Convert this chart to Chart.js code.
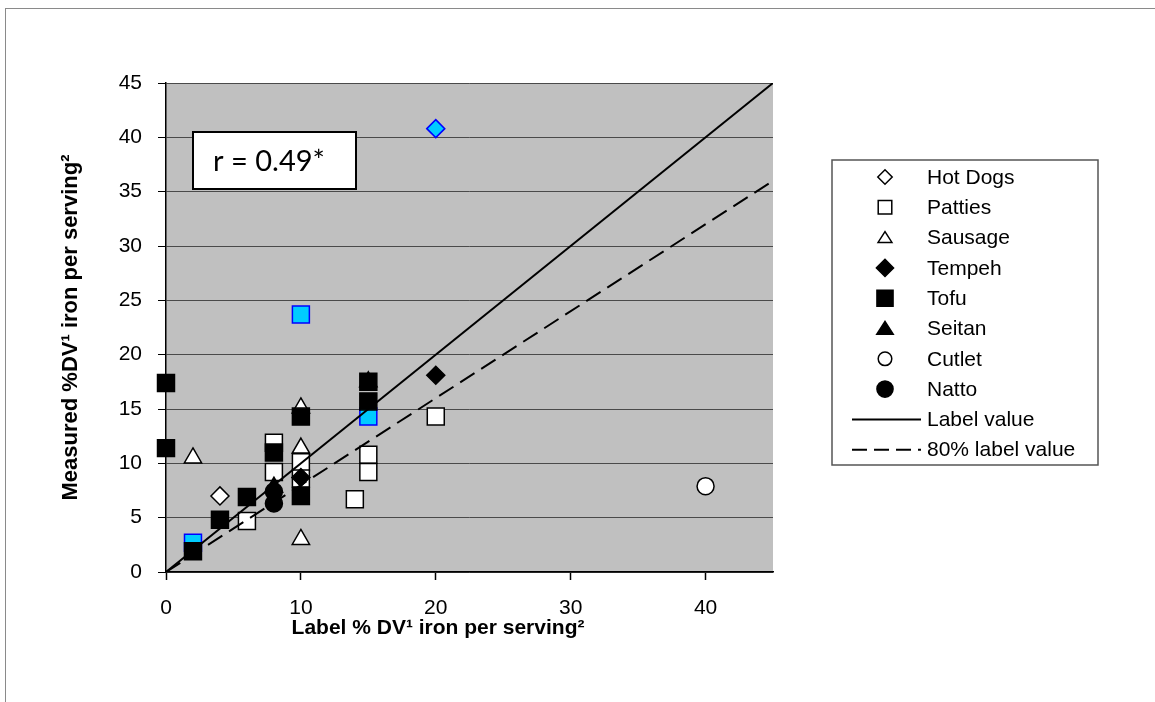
<!DOCTYPE html>
<html>
<head>
<meta charset="utf-8">
<script src="https://cdn.jsdelivr.net/npm/chart.js@4.4.0/dist/chart.umd.min.js"></script>
<style>
  html, body { margin: 0; padding: 0; background: #fff; }
</style>
</head>
<body>
<canvas id="chart" width="1155" height="702"></canvas>
<script>
// x = label %DV, y = measured %DV
const hotDogsX = [4, 20];
const hotDogsY = [7.0, 40.8];
const pattiesX = [2, 6, 8, 8, 10, 10, 10, 14, 15, 15, 15, 20];
const pattiesY = [2.7, 4.7, 11.9, 9.2, 10.1, 8.6, 23.7, 6.7, 14.3, 10.8, 9.2, 14.3];
const sausageX = [2, 10, 10, 10];
const sausageY = [10.5, 15.1, 11.4, 3.0];
const tempehX = [10, 20];
const tempehY = [8.7, 18.1];
const tofuX = [0, 0, 2, 4, 6, 8, 10, 10, 15, 15];
const tofuY = [17.4, 11.4, 1.9, 4.8, 6.9, 11.0, 14.3, 7.0, 17.5, 15.7];
const seitanX = [8, 15];
const seitanY = [7.8, 17.5];
const cutletX = [40];
const cutletY = [7.9];
const nattoX = [8, 8];
const nattoY = [7.4, 6.3];

const labelLineX = [0, 45];
const labelLineY = [0, 45];
const eightyLineX = [0, 45];
const eightyLineY = [0, 36];

// points highlighted in the original
const hotDogsFlagged = [1];
const pattiesFlagged = [0, 6, 8];

const xMax = 45;
const yMax = 45;
const xStep = 10;
const yStep = 5;
const correlationText = "r = 0.49*";
const xTitle = "Label % DV\u00B9 iron per serving\u00B2";
const yTitle = "Measured %DV\u00B9 iron per serving\u00B2";

const CYAN = "#00CCFF";
const BLUE = "#0000FF";
const SANS = "'Liberation Sans', Arial, sans-serif";

const pts = (xs, ys) => xs.map((x, i) => ({ x: x, y: ys[i] }));

function markerSet(label, xs, ys, style, radius, filled, flagged) {
  const fill = filled ? "#000" : "#fff";
  return {
    label: label,
    data: pts(xs, ys),
    showLine: false,
    pointStyle: style,
    pointRadius: radius,
    pointHoverRadius: radius,
    pointBorderWidth: 1.5,
    pointBackgroundColor: xs.map((_, i) => flagged.includes(i) ? CYAN : fill),
    pointBorderColor: xs.map((_, i) => flagged.includes(i) ? BLUE : "#000"),
    filled: filled,
    clip: false
  };
}

function lineSet(label, xs, ys, dash) {
  return {
    label: label,
    data: pts(xs, ys),
    showLine: true,
    borderColor: "#000",
    borderWidth: 2,
    borderDash: dash,
    pointRadius: 0,
    fill: false
  };
}

const datasets = [
  markerSet("Hot Dogs", hotDogsX, hotDogsY, "rectRot", 9, false, hotDogsFlagged),
  markerSet("Patties", pattiesX, pattiesY, "rect", 12, false, pattiesFlagged),
  markerSet("Sausage", sausageX, sausageY, "triangle", 10, false, []),
  markerSet("Tempeh", tempehX, tempehY, "rectRot", 9, true, []),
  markerSet("Tofu", tofuX, tofuY, "rect", 12, true, []),
  markerSet("Seitan", seitanX, seitanY, "triangle", 10, true, []),
  markerSet("Cutlet", cutletX, cutletY, "circle", 8.5, false, []),
  markerSet("Natto", nattoX, nattoY, "circle", 8.5, true, []),
  lineSet("Label value", labelLineX, labelLineY, []),
  lineSet("80% label value", eightyLineX, eightyLineY, [17, 8])
];
// later series sit on top, like the original
datasets.forEach((d, i) => { d.order = datasets.length - i; });

function marker(ctx, style, x, y, r) {
  ctx.beginPath();
  if (style === "rect") {
    const s = r * Math.SQRT1_2;
    ctx.rect(x - s, y - s, 2 * s, 2 * s);
  } else if (style === "rectRot") {
    ctx.moveTo(x - r, y); ctx.lineTo(x, y - r); ctx.lineTo(x + r, y); ctx.lineTo(x, y + r);
    ctx.closePath();
  } else if (style === "triangle") {
    const h = r * 0.75;
    ctx.moveTo(x, y - h); ctx.lineTo(x + r * 0.866, y + h * 0.8); ctx.lineTo(x - r * 0.866, y + h * 0.8);
    ctx.closePath();
  } else {
    ctx.arc(x, y, r, 0, Math.PI * 2);
  }
  ctx.fill();
  ctx.stroke();
}

const decorations = {
  id: "decorations",
  beforeDraw(chart) {
    const { ctx, chartArea: a } = chart;
    ctx.save();
    ctx.fillStyle = "#C0C0C0";
    ctx.fillRect(a.left, a.top, a.right - a.left, a.bottom - a.top);
    ctx.strokeStyle = "#8a8a8a";
    ctx.lineWidth = 1;
    ctx.strokeRect(5.5, 8.5, 1300, 900);
    ctx.restore();
  },
  afterDraw(chart) {
    const ctx = chart.ctx;
    ctx.save();

    // x axis title
    ctx.fillStyle = "#000";
    ctx.font = "bold 21px " + SANS;
    ctx.textAlign = "center";
    ctx.textBaseline = "alphabetic";
    ctx.fillText(xTitle, 438, 634);

    // correlation box
    ctx.fillStyle = "#fff";
    ctx.fillRect(193, 132, 163, 57);
    ctx.strokeStyle = "#000";
    ctx.lineWidth = 2;
    ctx.strokeRect(193, 132, 163, 57);
    ctx.fillStyle = "#000";
    ctx.font = "29px Lato, 'Open Sans', sans-serif";
    ctx.textAlign = "left";
    ctx.textBaseline = "middle";
    ctx.fillText(correlationText, 213, 162);

    // legend
    ctx.strokeStyle = "#555";
    ctx.lineWidth = 1.5;
    ctx.strokeRect(832, 160, 266, 305);
    ctx.font = "21px " + SANS;
    chart.data.datasets.forEach((d, i) => {
      const y = 177 + i * 30.3;
      ctx.strokeStyle = "#000";
      ctx.setLineDash([]);
      if (d.showLine) {
        ctx.lineWidth = 2;
        ctx.setLineDash(d.borderDash.length ? [15, 7] : []);
        ctx.beginPath();
        ctx.moveTo(852, y);
        ctx.lineTo(921, y);
        ctx.stroke();
        ctx.setLineDash([]);
      } else {
        ctx.lineWidth = 1.5;
        ctx.fillStyle = d.filled ? "#000" : "#fff";
        marker(ctx, d.pointStyle, 885, y, d.pointRadius * (d.filled ? 0.95 : 0.8));
      }
      ctx.fillStyle = "#000";
      ctx.fillText(d.label, 927, y + 1);
    });
    ctx.restore();
  }
};

new Chart(document.getElementById("chart"), {
  type: "scatter",
  data: { datasets: datasets },
  options: {
    responsive: false,
    animation: false,
    layout: { padding: { left: 50, top: 83, right: 382, bottom: 0 } },
    plugins: { legend: { display: false }, tooltip: { enabled: false } },
    scales: {
      x: {
        type: "linear",
        min: 0,
        max: xMax,
        afterFit: (s) => { s.height = 130; },
        ticks: { stepSize: xStep, includeBounds: false, padding: 16, color: "#000", font: { family: SANS, size: 21 } },
        grid: { drawOnChartArea: false, drawTicks: true, tickLength: 8, tickColor: "#000", tickWidth: 1.5 },
        border: { color: "#000", width: 1.5 }
      },
      y: {
        type: "linear",
        min: 0,
        max: yMax,
        afterFit: (s) => { s.width = 116; },
        ticks: { stepSize: yStep, padding: 16, color: "#000", font: { family: SANS, size: 21 } },
        grid: { color: "#4a4a4a", lineWidth: 1, tickLength: 8, tickColor: "#000" },
        border: { color: "#000", width: 1.5 },
        title: { display: true, text: yTitle, color: "#000", font: { family: SANS, size: 22, weight: "bold" }, padding: { top: 8, bottom: 0 } }
      }
    }
  },
  plugins: [decorations]
});
</script>
</body>
</html>
